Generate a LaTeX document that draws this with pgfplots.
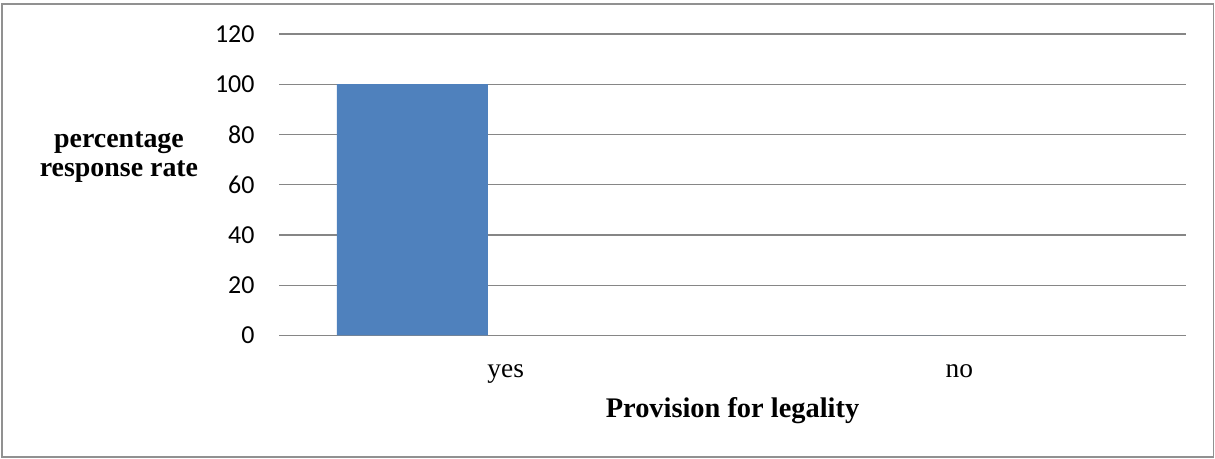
\documentclass[border=0pt]{standalone}
\usepackage{pgfplots}
\pgfplotsset{compat=1.18}
\usepackage{fontspec}
\setmainfont{Liberation Serif}
\newfontfamily\calibri{Carlito}
\definecolor{barblue}{RGB}{79,129,189}
\definecolor{gridgray}{RGB}{134,134,134}
\definecolor{framegray}{RGB}{145,145,145}
\begin{document}
\begin{tikzpicture}[x=1bp,y=1bp]
\useasboundingbox (0,0) rectangle (1215,459);
\draw[framegray, line width=1.6bp] (2,2) rectangle (1213.5,455);
\begin{axis}[
  at={(279bp,123.5bp)}, anchor=south west,
  width=907bp, height=301.5bp, scale only axis,
  xmin=0, xmax=2, ymin=0, ymax=120,
  ytick={0,20,...,120},
  xtick={0.5,1.5}, xticklabels={yes,no},
  axis line style={draw=none},
  major tick length=0pt,
  ymajorgrids, grid style={gridgray, line width=1.4bp},
  /pgf/number format/assume math mode=true,
  yticklabel style={font=\calibri\fontsize{26}{30}\selectfont, anchor=east, xshift=-21bp},
  xticklabel style={font=\fontsize{27.5}{32}\selectfont, anchor=base, yshift=-42bp},
  xlabel={\textbf{Provision for legality}},
  xlabel style={font=\fontsize{28.5}{32}\selectfont, at={(axis description cs:0.5,0)}, anchor=base, yshift=-82.5bp},
  ylabel={\textbf{percentage}\\[3bp]\textbf{response rate}},
  ylabel style={font=\fontsize{28}{26}\selectfont, align=center, rotate=-90, at={(axis description cs:-0.1764,0.593)}, anchor=center},
  ybar, bar width=0.333, bar shift=-0.206,
  clip=false,
]
\addplot[fill=barblue, draw=none] coordinates {(0.5,100) (1.5,0)};
\end{axis}
\end{tikzpicture}
\end{document}
